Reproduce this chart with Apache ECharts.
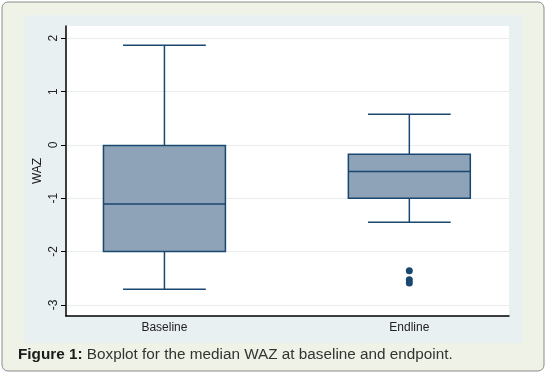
<!DOCTYPE html>
<html>
<head>
<meta charset="utf-8">
<style>
html,body{margin:0;padding:0;background:#ffffff;}
#c{width:546px;height:375px;}
</style>
<script src="https://cdn.jsdelivr.net/npm/echarts@6/dist/echarts.min.js"></script>
</head>
<body>
<div id="c"></div>
<script>
var categories = ['Baseline', 'Endline'];
// [min whisker, Q1, median, Q3, max whisker]
var baselineBox = [-2.71, -2.0, -1.11, -0.01, 1.87];
var endlineBox = [-1.45, -1.0, -0.5, -0.175, 0.575];
var endlineOutliers = [-2.36, -2.53, -2.59];
var yTicks = [-3, -2, -1, 0, 1, 2];

var boxes = [baselineBox, endlineBox];
var boxData = boxes.map(function (b, i) { return [i].concat(b); });
var outlierData = endlineOutliers.map(function (v) { return [1, v]; });

var chart = echarts.init(document.getElementById('c'));
var navy = '#1a476f';

function renderBox(params, api) {
  var x = api.value(0);
  var lo = api.value(1), q1 = api.value(2), med = api.value(3), q3 = api.value(4), hi = api.value(5);
  var halfBox = 0.249, halfCap = 0.169;
  var pQ1L = api.coord([x - halfBox, q1]);
  var pQ3R = api.coord([x + halfBox, q3]);
  var pMedL = api.coord([x - halfBox, med]);
  var pMedR = api.coord([x + halfBox, med]);
  var pLo = api.coord([x, lo]);
  var pHi = api.coord([x, hi]);
  var pQ1 = api.coord([x, q1]);
  var pQ3 = api.coord([x, q3]);
  var capL = api.coord([x - halfCap, 0])[0];
  var capR = api.coord([x + halfCap, 0])[0];
  var ls = { stroke: navy, lineWidth: 1.5 };
  return {
    type: 'group',
    children: [
      { type: 'line', shape: { x1: pHi[0], y1: pHi[1], x2: pQ3[0], y2: pQ3[1] }, style: ls },
      { type: 'line', shape: { x1: pLo[0], y1: pLo[1], x2: pQ1[0], y2: pQ1[1] }, style: ls },
      { type: 'line', shape: { x1: capL, y1: pHi[1], x2: capR, y2: pHi[1] }, style: ls },
      { type: 'line', shape: { x1: capL, y1: pLo[1], x2: capR, y2: pLo[1] }, style: ls },
      { type: 'rect', shape: { x: pQ1L[0], y: pQ3R[1], width: pQ3R[0] - pQ1L[0], height: pQ1L[1] - pQ3R[1] },
        style: { fill: '#8ea3b7', stroke: navy, lineWidth: 1.5 } },
      { type: 'line', shape: { x1: pMedL[0], y1: pMedL[1], x2: pMedR[0], y2: pMedR[1] }, style: ls }
    ]
  };
}

chart.setOption({
  animation: false,
  textStyle: { fontFamily: 'Liberation Sans, Arial, sans-serif' },
  graphic: [
    { type: 'rect', z: -10, silent: true,
      shape: { x: 2, y: 2, width: 542, height: 369, r: 6 },
      style: { fill: '#eef2e7', stroke: '#8a8a8a', lineWidth: 1 } },
    { type: 'rect', z: -9, silent: true,
      shape: { x: 24, y: 15, width: 498, height: 328 },
      style: { fill: '#e9f0f2' } }
  ],
  title: {
    text: '{b|Figure 1:} Boxplot for the median WAZ at baseline and endpoint.',
    left: 18, top: 347, padding: 0,
    textStyle: {
      fontSize: 15.3, color: '#333333', fontWeight: 'normal', fontFamily: 'Liberation Sans, Arial, sans-serif',
      rich: { b: { fontSize: 15.3, fontWeight: 'bold', color: '#1a1a1a', fontFamily: 'Liberation Sans, Arial, sans-serif' } }
    }
  },
  grid: { left: 66, top: 26, width: 443, height: 290, show: true, backgroundColor: '#ffffff', borderWidth: 0 },
  xAxis: {
    type: 'value', min: -0.402, max: 1.407,
    axisLine: { show: true, onZero: false, lineStyle: { color: '#000000', width: 1.5 } },
    axisTick: { show: false },
    splitLine: { show: false },
    axisLabel: {
      customValues: [0, 1],
      formatter: function (v) { return categories[Math.round(v)]; },
      fontSize: 12, color: '#222222', margin: 6
    }
  },
  yAxis: {
    type: 'value', min: -3.21, max: 2.23,
    name: 'WAZ', nameLocation: 'middle', nameRotate: 90, nameGap: 22, nameMoveOverlap: false,
    nameTextStyle: { fontSize: 12, color: '#222222' },
    axisLine: { show: true, onZero: false, lineStyle: { color: '#000000', width: 1.5 } },
    axisTick: { show: true, customValues: yTicks, length: 5, lineStyle: { color: '#000000', width: 1 } },
    axisLabel: { customValues: yTicks, rotate: 90, fontSize: 12, color: '#222222', margin: 6 },
    splitLine: { show: true, lineStyle: { color: '#e8edee', width: 1 } }
  },
  series: [
    { type: 'custom', renderItem: renderBox, data: boxData, encode: { x: 0, y: [1, 2, 3, 4, 5] } },
    { type: 'scatter', data: outlierData, symbolSize: 7, itemStyle: { color: navy, opacity: 1 } }
  ]
});
</script>
</body>
</html>
